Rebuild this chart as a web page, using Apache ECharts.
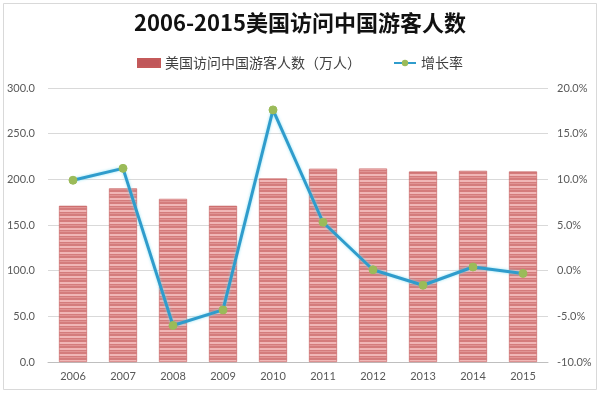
<!DOCTYPE html>
<html><head><meta charset="utf-8">
<script src="https://cdn.jsdelivr.net/npm/echarts@6/dist/echarts.min.js"></script>
<style>html,body{margin:0;padding:0;background:#fff}#c{width:600px;height:394px}</style>
</head><body><div id="c"></div>
<script>
const years = ['2006','2007','2008','2009','2010','2011','2012','2013','2014','2015'];
const visitors = [171.0, 190.1, 178.6, 171.0, 200.9, 211.6, 211.8, 208.5, 209.3, 208.6];
const growth = [9.9, 11.2, -6.0, -4.3, 17.6, 5.3, 0.1, -1.6, 0.4, -0.3];
const barName = '美国访问中国游客人数（万人）';
const lineName = '增长率';

// striped fill pattern
const pc = document.createElement('canvas');
pc.width = 4; pc.height = 6;
const px = pc.getContext('2d');
px.fillStyle = '#d47c7c'; px.fillRect(0,0,4,6);
px.fillStyle = '#f0b6b6'; px.fillRect(0,0,4,2);
px.fillStyle = '#e09494'; px.fillRect(0,3,4,1);

const chart = echarts.init(document.getElementById('c'));
const font = 'Lato, "Noto Sans CJK SC", sans-serif';
chart.setOption({
  animation: false,
  backgroundColor: '#fff',
  title: {
    text: '2006-2015美国访问中国游客人数',
    left: 'center', top: 7,
    textStyle: {fontFamily: '"Noto Sans CJK SC", sans-serif', fontSize: 22, fontWeight: 'bold', color: '#111'}
  },
  legend: {
    top: 51, left: 'center', itemGap: 32, itemWidth: 22, itemHeight: 8,
    textStyle: {fontFamily: '"Noto Sans CJK SC", serif', fontSize: 14, color: '#404040'},
    data: [
      {name: barName, icon: 'rect', itemStyle: {color: '#c0575a'}},
      {name: lineName}
    ]
  },
  grid: {left: 48, right: 52, top: 88, bottom: 32},
  xAxis: {
    type: 'category', data: years,
    axisLine: {lineStyle: {color: '#bfbfbf', width: 1}},
    axisTick: {show: false},
    axisLabel: {color: '#595959', fontSize: 11, fontFamily: font, margin: 9}
  },
  yAxis: [
    {
      type: 'value', min: 0, max: 300, interval: 50,
      axisLabel: {color: '#595959', fontSize: 11, fontFamily: font, margin: 13, formatter: v => v.toFixed(1)},
      splitLine: {lineStyle: {color: '#d9d9d9'}},
      axisLine: {show: false}, axisTick: {show: false}
    },
    {
      type: 'value', min: -10, max: 20, interval: 5,
      axisLabel: {color: '#595959', fontSize: 11, fontFamily: font, margin: 9, formatter: v => v.toFixed(1) + '%'},
      splitLine: {show: false},
      axisLine: {show: false}, axisTick: {show: false}
    }
  ],
  series: [
    {
      name: barName, type: 'bar', data: visitors, barWidth: 28,
      itemStyle: {color: {image: pc, repeat: 'repeat'}, borderColor: '#c45a5a', borderWidth: 0.6}
    },
    {
      name: lineName, type: 'line', yAxisIndex: 1, data: growth,
      symbol: 'circle', symbolSize: 8,
      lineStyle: {color: '#2f9ccc', width: 3, shadowColor: 'rgba(120,220,240,0.8)', shadowBlur: 3},
      itemStyle: {color: '#9bbb59', borderColor: '#9bbb59'}
    }
  ],
  graphic: [{
    type: 'rect', shape: {x: 3.5, y: 3.5, width: 593, height: 386},
    style: {fill: 'none', stroke: '#d9d9d9', lineWidth: 1}, silent: true
  }]
});
</script></body></html>
